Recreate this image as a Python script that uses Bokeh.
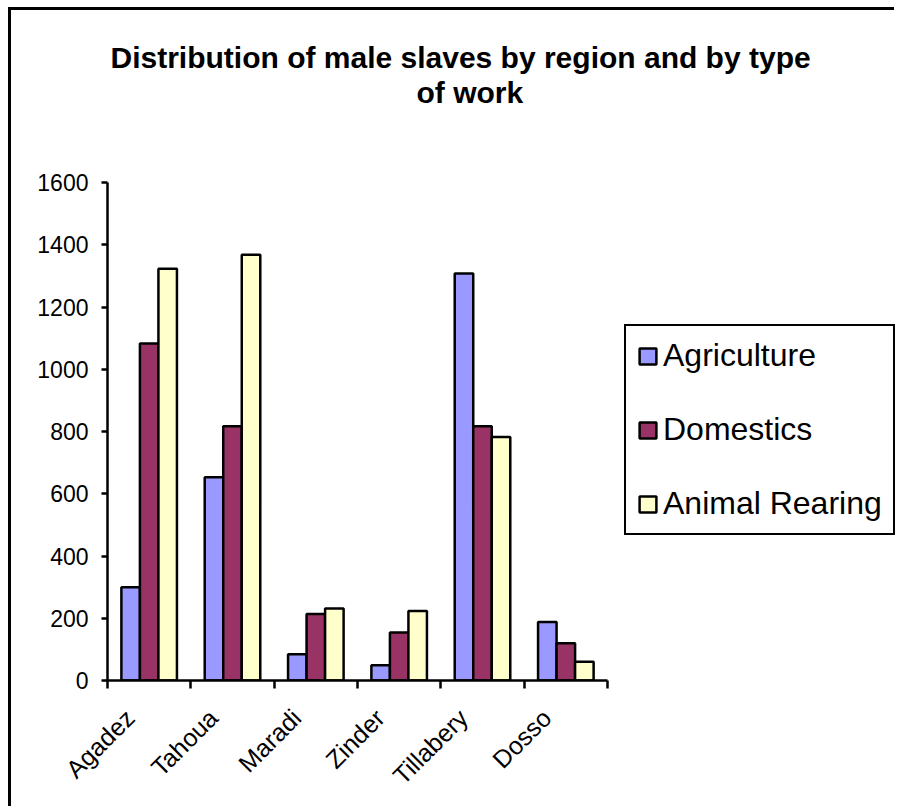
import numpy as np
from bokeh.plotting import figure
from bokeh.models import (ColumnDataSource, Range1d, FixedTicker, Legend,
                          LegendItem, Title)
from bokeh.transform import dodge
from bokeh.embed import file_html
from bokeh.resources import INLINE

# ---- data ----
regions = ["Agadez", "Tahoua", "Maradi", "Zinder", "Tillabery", "Dosso"]
agriculture = [300, 653, 84, 49, 1308, 188]
domestics = [1083, 817, 214, 154, 817, 120]
animal_rearing = [1323, 1368, 231, 223, 782, 60]
series_names = ["Agriculture", "Domestics", "Animal Rearing"]
series_colors = ["#9999FF", "#993366", "#FFFFCC"]
y_ticks = [0, 200, 400, 600, 800, 1000, 1200, 1400, 1600]
title_line1 = "Distribution of male slaves by region and by type"
title_line2 = "of work"

FONT = "Liberation Sans"

W, H = 886, 799
BORDER_L, BORDER_R = 96, 0
AXIS_PX = 500  # width of the category axis in pixels
frame_px = W - BORDER_L - BORDER_R
n = len(regions)
x_end = n * frame_px / AXIS_PX  # frame extends to the right to hold the legend

centers = [i + 0.5 for i in range(n)]
boundaries = list(range(n + 1))
label_anchor = [round(c - 0.23, 2) for c in centers]

source = ColumnDataSource(dict(x=centers, agri=agriculture,
                               dom=domestics, anim=animal_rearing))

p = figure(width=W, height=H,
           x_range=Range1d(0, x_end), y_range=Range1d(0, y_ticks[-1]),
           output_backend="svg", toolbar_location=None,
           min_border_left=BORDER_L, min_border_right=BORDER_R,
           min_border_top=172, min_border_bottom=129)
p.styles = {"border-top": "3px solid black", "border-left": "3px solid black",
            "margin-top": "7px", "margin-left": "8px"}

bar_w = 1 / 4.5
fields = ["agri", "dom", "anim"]
renderers = []
for k, (f, c) in enumerate(zip(fields, series_colors)):
    r = p.vbar(x=dodge("x", (k - 1) * bar_w, range=p.x_range), top=f,
               width=bar_w, bottom=0, source=source, fill_color=c,
               line_color="black", line_width=2.5)
    renderers.append(r)

p.grid.visible = False
p.outline_line_color = None
p.background_fill_color = "white"
p.border_fill_color = "white"

# y axis
ya = p.yaxis[0]
ya.ticker = FixedTicker(ticks=y_ticks, minor_ticks=[])
ya.axis_line_width = 2.5
ya.major_tick_line_width = 2.5
ya.major_tick_out = 6
ya.major_tick_in = 0
ya.minor_tick_line_color = None
ya.major_label_text_font = FONT
ya.major_label_text_font_size = "23px"
ya.major_label_text_color = "black"
ya.major_label_standoff = 13

# x axis
xa = p.xaxis[0]
xa.bounds = (0, n)
xa.ticker = FixedTicker(ticks=label_anchor, minor_ticks=boundaries)
xa.major_label_overrides = {c: r for c, r in zip(label_anchor, regions)}
xa.axis_line_width = 2.5
xa.major_tick_out = 0
xa.major_tick_in = 0
xa.major_tick_line_color = None
xa.minor_tick_out = 8
xa.minor_tick_in = 0
xa.minor_tick_line_width = 2.5
xa.minor_tick_line_color = "black"
xa.major_label_orientation = np.pi / 4
xa.major_label_text_font = FONT
xa.major_label_text_font_size = "25px"
xa.major_label_text_color = "black"
xa.major_label_standoff = 25

# titles (first added sits closest to the plot)
spacer = Title(text=" ", text_font_size="10px", standoff=61)
t2 = Title(text=title_line2, align="left", offset=309, text_font=FONT,
           text_font_size="30px", text_font_style="bold", standoff=0,
           text_color="black")
t1 = Title(text=title_line1, align="left", offset=3, text_font=FONT,
           text_font_size="30px", text_font_style="bold", standoff=0,
           text_color="black")
p.add_layout(spacer, "above")
p.add_layout(t2, "above")
p.add_layout(t1, "above")

# legend (inside the widened frame, to the right of the bars)
legend = Legend(items=[LegendItem(label=s, renderers=[r])
                       for s, r in zip(series_names, renderers)],
                location=(517, 145))
legend.border_line_color = "black"
legend.border_line_alpha = 1
legend.border_line_width = 2
legend.background_fill_color = "white"
legend.background_fill_alpha = 1
legend.padding = 11
legend.spacing = 37
legend.glyph_width = 21
legend.glyph_height = 20
legend.label_standoff = 5
legend.label_text_font = FONT
legend.label_text_font_size = "32px"
legend.label_text_color = "black"
legend.margin = 0
p.add_layout(legend, "center")

open("out.html", "w").write(file_html(p, INLINE))
